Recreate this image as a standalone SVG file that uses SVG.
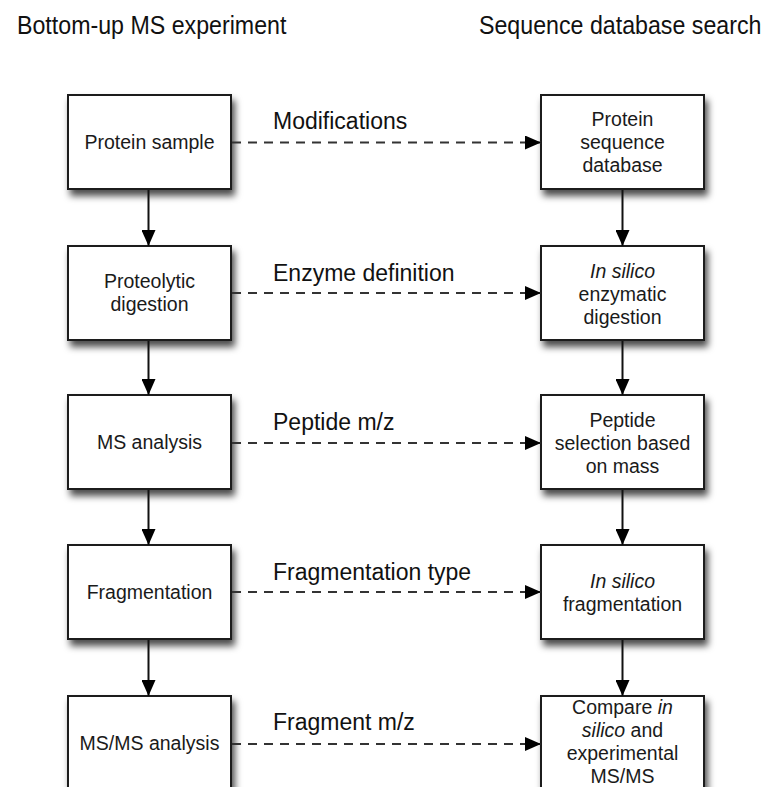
<svg xmlns="http://www.w3.org/2000/svg" width="769" height="787" viewBox="0 0 769 787">
<style>
.box{fill:#fff;stroke:#1e1e1e;stroke-width:2;filter:url(#sh)}
.nt{font-family:"Liberation Sans",Arial,sans-serif;font-size:19.5px;fill:#1a1a1a;text-anchor:middle}
.lb{font-family:"Liberation Sans",Arial,sans-serif;font-size:23px;fill:#111}
.tt{font-family:"Liberation Sans",Arial,sans-serif;font-size:23.2px;fill:#111}
.solid{stroke:#111;stroke-width:2;fill:none;marker-end:url(#ah)}
.dash{stroke:#333;stroke-width:2;fill:none;stroke-dasharray:9 7;marker-end:url(#ah)}
</style>
<defs>
<filter id="sh" x="-20%" y="-20%" width="150%" height="150%">
<feDropShadow dx="3" dy="6" stdDeviation="3.5" flood-color="#000" flood-opacity="0.7"/>
</filter>
<marker id="ah" markerUnits="userSpaceOnUse" markerWidth="17" markerHeight="14" refX="16" refY="7" orient="auto">
<path d="M0,0 L16,7 L0,14 z" fill="#000"/>
</marker>
</defs>
<rect width="769" height="787" fill="#fff"/>
<g transform="scale(1,1.12)">
<text class="tt" x="17" y="30.4">Bottom-up MS experiment</text>
<text class="tt" x="479" y="30.4">Sequence database search</text>
</g>

<g id="n1"><rect class="box" x="68" y="95" width="163" height="94"/><text class="nt" x="149.5" y="149">Protein sample</text></g>
<g id="n2"><rect class="box" x="68" y="246" width="163" height="94"/><text class="nt" x="149.5" y="288">Proteolytic</text><text class="nt" x="149.5" y="311">digestion</text></g>
<g id="n3"><rect class="box" x="68" y="395" width="163" height="94"/><text class="nt" x="149.5" y="449">MS analysis</text></g>
<g id="n4"><rect class="box" x="68" y="545" width="163" height="94"/><text class="nt" x="149.5" y="599">Fragmentation</text></g>
<g id="n5"><rect class="box" x="68" y="696" width="163" height="94"/><text class="nt" x="149.5" y="750">MS/MS analysis</text></g>

<g id="m1"><rect class="box" x="541" y="95" width="163" height="94"/><text class="nt" x="622.5" y="126">Protein</text><text class="nt" x="622.5" y="149">sequence</text><text class="nt" x="622.5" y="172">database</text></g>
<g id="m2"><rect class="box" x="541" y="246" width="163" height="94"/><text class="nt" x="622.5" y="278" font-style="italic">In silico</text><text class="nt" x="622.5" y="301">enzymatic</text><text class="nt" x="622.5" y="324">digestion</text></g>
<g id="m3"><rect class="box" x="541" y="395" width="163" height="94"/><text class="nt" x="622.5" y="427">Peptide</text><text class="nt" x="622.5" y="450">selection based</text><text class="nt" x="622.5" y="473">on mass</text></g>
<g id="m4"><rect class="box" x="541" y="545" width="163" height="94"/><text class="nt" x="622.5" y="588" font-style="italic">In silico</text><text class="nt" x="622.5" y="611">fragmentation</text></g>
<g id="m5"><rect class="box" x="541" y="696" width="163" height="94"/><text class="nt" x="622.5" y="714">Compare <tspan font-style="italic">in</tspan></text><text class="nt" x="622.5" y="737"><tspan font-style="italic">silico</tspan> and</text><text class="nt" x="622.5" y="760">experimental</text><text class="nt" x="622.5" y="783">MS/MS</text></g>

<g id="connectors">
<line class="solid" x1="148.5" y1="190" x2="148.5" y2="246"/>
<line class="solid" x1="148.5" y1="341" x2="148.5" y2="395"/>
<line class="solid" x1="148.5" y1="490" x2="148.5" y2="545"/>
<line class="solid" x1="148.5" y1="640" x2="148.5" y2="696"/>
<line class="solid" x1="622.5" y1="190" x2="622.5" y2="246"/>
<line class="solid" x1="622.5" y1="341" x2="622.5" y2="395"/>
<line class="solid" x1="622.5" y1="490" x2="622.5" y2="545"/>
<line class="solid" x1="622.5" y1="640" x2="622.5" y2="696"/>
<line class="dash" x1="232" y1="142.5" x2="541" y2="142.5"/>
<line class="dash" x1="232" y1="293" x2="541" y2="293"/>
<line class="dash" x1="232" y1="443" x2="541" y2="443"/>
<line class="dash" x1="232" y1="592" x2="541" y2="592"/>
<line class="dash" x1="232" y1="744" x2="541" y2="744"/>
<text class="lb" x="273" y="129">Modifications</text>
<text class="lb" x="273" y="281">Enzyme definition</text>
<text class="lb" x="273" y="430">Peptide m/z</text>
<text class="lb" x="273" y="580">Fragmentation type</text>
<text class="lb" x="273" y="730">Fragment m/z</text>
</g>
</svg>
